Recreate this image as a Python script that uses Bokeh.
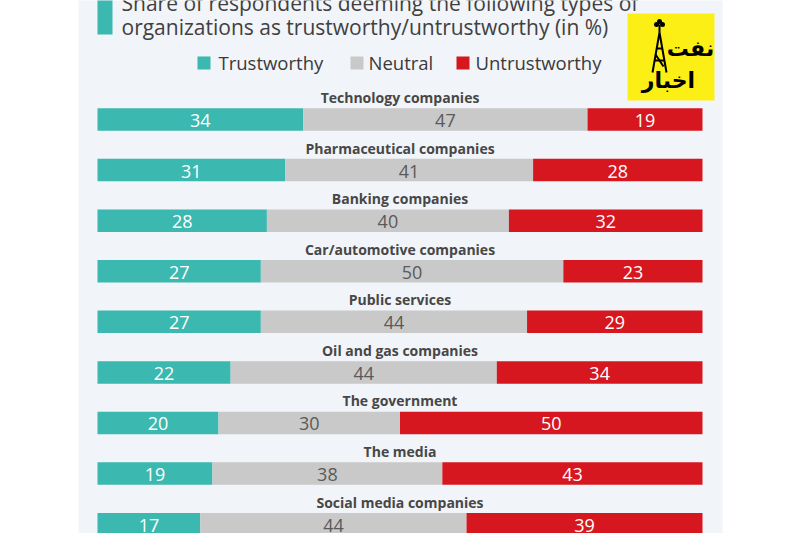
from bokeh.plotting import figure
from bokeh.models import Range1d, ColumnDataSource
from bokeh.core.properties import value
from bokeh.embed import file_html
from bokeh.resources import INLINE

# ---------------- data ----------------
categories = [
    "Technology companies",
    "Pharmaceutical companies",
    "Banking companies",
    "Car/automotive companies",
    "Public services",
    "Oil and gas companies",
    "The government",
    "The media",
    "Social media companies",
]
trustworthy = [34, 31, 28, 27, 27, 22, 20, 19, 17]
neutral = [47, 41, 40, 50, 44, 44, 30, 38, 44]
untrustworthy = [19, 28, 32, 23, 29, 34, 50, 43, 39]
series_names = ["Trustworthy", "Neutral", "Untrustworthy"]
title_lines = [
    "Share of respondents deeming the following types of",
    "organizations as trustworthy/untrustworthy (in %)",
]
logo_words = ["نفت", "اخبار"]

# ---------------- style ----------------
TEAL = "#3bb8b0"
GRAY = "#c9c9c9"
RED = "#d6171f"
PANEL = "#f1f4f8"
colors = [TEAL, GRAY, RED]
label_colors = ["#ffffff", "#5a5a5a", "#ffffff"]
FONT = "Open Sans"

W, H = 800, 533
X0, X100 = 97.0, 702.0           # screen px of 0% and 100%
K = (X100 - X0) / 100.0
ROW0, ROW = 119.0, 50.58         # screen px of first row center, row pitch

def sx(px):
    return (px - X0) / K

def sy(py):
    return (py - ROW0) / ROW

p = figure(width=W, height=H, output_backend="svg", toolbar_location=None,
           x_range=Range1d(sx(0), sx(W)),
           y_range=Range1d(sy(H), sy(0)),
           min_border=0, outline_line_color=None,
           background_fill_color="white", border_fill_color="white")
p.axis.visible = False
p.grid.visible = False

# panel background
p.quad(left=sx(78), right=sx(722), top=sy(-20), bottom=sy(560),
       fill_color=PANEL, line_color=None)

# title accent + title
p.quad(left=sx(97), right=sx(112), top=sy(-20), bottom=sy(34),
       fill_color=TEAL, line_color=None)
p.text(x=[sx(121)] * 2, y=[sy(2), sy(26)], text=title_lines,
       text_font=value(FONT), text_font_size="21px", text_color="#404040",
       text_baseline="alphabetic", text_align="left")

# legend
leg_sq_x = [197, 350, 456]
leg_tx_x = [218, 368, 475]
for i, name in enumerate(series_names):
    p.quad(left=sx(leg_sq_x[i]), right=sx(leg_sq_x[i] + 13),
           top=sy(56), bottom=sy(69), fill_color=colors[i], line_color=None)
p.text(x=[sx(v) for v in leg_tx_x], y=[sy(62)] * 3, text=series_names,
       text_font=value(FONT), text_font_size="18.5px", text_color="#3a3a3a",
       text_baseline="middle", text_align="left")

# logo
p.quad(left=sx(627), right=sx(714), top=sy(13), bottom=sy(100),
       fill_color="#fbef16", line_color=None)
# derrick sketch
p.multi_line(xs=[[sx(652), sx(659), sx(666)], [sx(654), sx(664)], [sx(656), sx(662)],
                 [sx(655), sx(663)], [sx(659), sx(659)]],
             ys=[[sy(72), sy(32), sy(72)], [sy(60), sy(60)], [sy(48), sy(48)],
                 [sy(54), sy(66)], [sy(24), sy(32)]],
             line_color="black", line_width=2)
p.scatter(x=[sx(656), sx(659), sx(662)], y=[sy(24), sy(21), sy(24)], size=5,
          fill_color="black", line_color=None)
p.text(x=[sx(690), sx(668)], y=[sy(48), sy(80)], text=logo_words,
       text_font=value("DejaVu Sans"), text_font_size="22px", text_font_style="bold",
       text_color="black", text_align="center", text_baseline="middle")

# bars
ys = list(range(len(categories)))
series = [trustworthy, neutral, untrustworthy]
left = [0] * len(categories)
for s, vals in enumerate(series):
    right = [l + v for l, v in zip(left, vals)]
    src = ColumnDataSource(dict(y=ys, left=left, right=right,
                                mid=[(l + r) / 2 for l, r in zip(left, right)],
                                lab=[str(v) for v in vals]))
    p.hbar(y="y", left="left", right="right", height=22.5 / ROW, source=src,
           fill_color=colors[s], line_color=None)
    p.text(x="mid", y="y", text="lab", source=src, text_font=value(FONT),
           text_font_size="18px", text_color=label_colors[s],
           text_align="center", text_baseline="middle", y_offset=1)
    left = right

# category labels
p.text(x=[50] * len(categories), y=ys, text=categories, y_offset=-22,
       text_font=value(FONT), text_font_size="14px", text_font_style="bold",
       text_color="#474747", text_align="center", text_baseline="middle")

open("out.html", "w").write(file_html(p, INLINE))
